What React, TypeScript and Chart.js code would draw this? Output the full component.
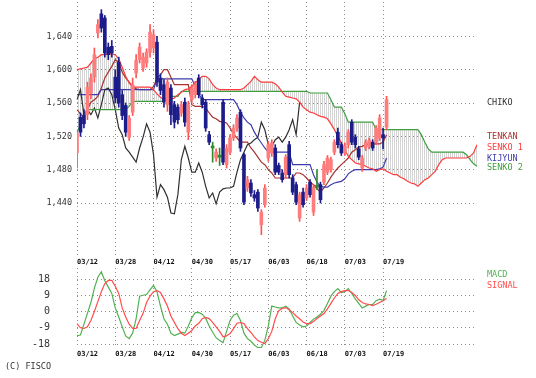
import React, { useEffect, useRef } from 'react';
import { Chart, registerables } from 'chart.js';
Chart.register(...registerables);

// ---- data ----
const dateTicks = ['03/12', '03/28', '04/12', '04/30', '05/17', '06/03', '06/18', '07/03', '07/19'];
const dateTickIndex = [0, 11, 22, 33, 44, 55, 66, 77, 88];
const slotCount = 116;

const priceTicks = [1440, 1480, 1520, 1560, 1600, 1640];
const macdTicks = [-18, -9, 0, 9, 18];

const opens = [1500,1543,1545,1546,1572,1591,1644,1667,1662,1627,
 1628,1591,1609,1570,1557,1519,1549,1596,1612,1602,
 1608,1621,1626,1633,1590,1582,1558,1578,1558,1555,
 1548,1561,1525,1564,1570,1590,1566,1561,1522,1506,
 1494,1495,1561,1486,1501,1518,1530,1549,1498,1458,
 1464,1450,1453,1414,1438,1494,1500,1506,1485,1476,
 1474,1510,1470,1462,1422,1453,1446,1465,1429,1459,
 1462,1465,1477,1480,1501,1525,1510,1500,1510,1537,
 1519,1505,1482,1506,1508,1513,1513,1518,1522,1531];
const highs = [1528,1548,1552,1585,1595,1626,1660,1672,1665,1632,
 1635,1600,1615,1575,1560,1545,1590,1618,1632,1620,
 1625,1654,1648,1640,1595,1588,1590,1582,1562,1558,
 1562,1566,1562,1582,1586,1594,1570,1564,1526,1513,
 1505,1506,1564,1510,1522,1534,1546,1552,1500,1472,
 1468,1455,1456,1432,1462,1514,1516,1510,1488,1480,
 1498,1514,1474,1465,1453,1458,1462,1468,1462,1480,
 1465,1490,1497,1495,1516,1530,1513,1512,1528,1540,
 1522,1508,1497,1516,1518,1516,1533,1546,1530,1568];
const lows = [1482,1520,1530,1540,1565,1585,1638,1645,1615,1612,
 1615,1560,1555,1540,1520,1515,1545,1590,1608,1598,
 1603,1615,1620,1580,1570,1555,1550,1534,1530,1535,
 1544,1532,1516,1560,1566,1566,1554,1526,1510,1489,
 1490,1485,1486,1482,1498,1515,1526,1502,1438,1454,
 1448,1442,1430,1402,1435,1490,1496,1474,1474,1465,
 1470,1470,1450,1438,1418,1435,1443,1447,1425,1456,
 1440,1462,1474,1477,1498,1506,1497,1497,1506,1510,
 1506,1492,1478,1503,1505,1503,1510,1515,1505,1528];
const closes = [1524,1525,1535,1579,1590,1618,1654,1650,1620,1618,
 1620,1566,1560,1545,1525,1542,1582,1611,1627,1615,
 1621,1645,1642,1585,1575,1561,1585,1546,1537,1540,
 1558,1537,1558,1578,1582,1570,1558,1530,1513,1506,
 1501,1495,1489,1506,1518,1530,1542,1506,1441,1468,
 1452,1446,1434,1429,1458,1510,1512,1477,1477,1468,
 1495,1474,1453,1441,1450,1438,1458,1450,1459,1459,
 1444,1486,1494,1492,1513,1510,1500,1508,1525,1513,
 1510,1495,1494,1513,1515,1506,1530,1542,1518,1564];

const tenkan = [1552,1547,1543,1552,1561,1564,1568,1578,1590,1597,
 1604,1612,1609,1597,1590,1585,1580,1577,1576,1576,
 1576,1576,1580,1589,1594,1600,1600,1591,1582,1582,
 1582,1582,1582,1558,1556,1556,1556,1554,1548,1543,
 1541,1538,1537,1536,1530,1523,1518,1513,1513,1513,
 1506,1501,1495,1489,1486,1480,1476,1470,1470,1470,
 1470,1470,1470,1476,1476,1474,1470,1465,1462,1457,
 1453,1458,1464,1471,1477,1482,1486,1490,1494,1501,
 1504,1507,1508,1510,1511,1511,1511,1511,1513,1522];

const kijyun = [1570,1570,1570,1570,1570,1570,1570,1576,1576,1576,
 1576,1576,1576,1576,1576,1576,1576,1576,1576,1576,
 1576,1576,1576,1589,1589,1589,1589,1589,1589,1589,
 1589,1589,1589,1589,1580,1571,1564,1564,1564,1564,
 1564,1564,1564,1564,1564,1564,1558,1549,1542,1537,
 1534,1525,1518,1512,1506,1501,1501,1501,1501,1501,
 1501,1501,1486,1486,1486,1486,1486,1486,1474,1465,
 1460,1459,1459,1462,1464,1465,1466,1469,1475,1478,
 1480,1480,1480,1480,1480,1480,1480,1481,1483,1494];

const senko1 = [1600,1601,1602,1603,1608,1613,1615,1618,1618,1619,
 1619,1618,1613,1603,1592,1584,1579,1579,1579,1579,
 1579,1579,1576,1571,1567,1564,1564,1564,1566,1570,
 1573,1576,1577,1580,1584,1588,1592,1592,1589,1582,
 1578,1576,1576,1576,1576,1576,1576,1576,1578,1582,
 1586,1592,1588,1585,1585,1585,1585,1583,1579,1573,
 1568,1567,1566,1565,1561,1555,1552,1549,1548,1546,
 1544,1543,1541,1535,1528,1520,1512,1504,1496,1492,
 1488,1487,1486,1484,1482,1481,1478,1480,1481,1478,
 1476,1474,1474,1471,1469,1466,1464,1463,1460,1464,
 1468,1470,1474,1478,1486,1492,1494,1494,1494,1494,
 1494,1494,1494,1496,1500,1510];

const senko2 = [1525,1534,1546,1552,1552,1552,1552,1552,1552,1552,
 1552,1552,1552,1552,1552,1556,1562,1562,1562,1562,
 1562,1562,1562,1562,1562,1562,1568,1568,1568,1568,
 1574,1574,1574,1574,1574,1574,1574,1574,1574,1574,
 1574,1574,1574,1574,1574,1574,1574,1574,1574,1574,
 1574,1574,1574,1574,1574,1574,1574,1574,1574,1574,
 1574,1574,1574,1574,1574,1574,1574,1572,1572,1572,
 1572,1572,1572,1564,1555,1555,1555,1547,1537,1537,
 1537,1537,1537,1537,1537,1537,1528,1528,1528,1528,
 1528,1528,1528,1528,1528,1528,1528,1528,1528,1522,
 1513,1505,1501,1501,1501,1501,1501,1501,1501,1501,
 1501,1501,1498,1492,1487,1484];

const chiko = [1564,1576,1546,1552,1546,1554,1542,1558,1576,1578,
 1570,1552,1530,1522,1506,1501,1495,1489,1506,1519,
 1535,1525,1498,1447,1462,1456,1447,1428,1427,1450,
 1492,1508,1494,1477,1477,1488,1477,1460,1446,1452,
 1439,1453,1457,1458,1458,1460,1477,1492,1501,1510,
 1512,1516,1519,1537,1528,1510,1508,1516,1519,1513,
 1519,1528,1540,1522,1561];

const macd = [-13.3,-13,-7,-1,5,13,19,22,17,13.5,
 10,2,-3,-8.5,-13.5,-15,-12,-4,8.5,9,
 9.4,12,14.5,11,3,-4,-7,-12,-13.3,-12.5,
 -11.6,-12,-8,-3.5,-0.6,-0.5,-1.5,-3.8,-8,-11.5,
 -14.5,-16,-17.2,-11,-5,-2,-1.1,-5,-12,-15,
 -16.5,-18.5,-20,-20,-16,-8,3,2.5,2,2,
 3,1.5,-2.5,-6,-7.5,-8.5,-8,-6.1,-4.2,-3,
 -1.5,0.5,4.4,8.5,11,12.7,10.5,11,12.7,10,
 7,4.5,2,3,3.9,3.9,6,6.8,6.1,11.6];

const signal = [-6.7,-9,-9.4,-8.5,-5,0,5.5,11,15.5,17.2,
 17.2,14,10,2,-3,-7,-9.4,-9.4,-5,-1,
 5,8.5,11,11.6,10.5,7,3,-2.5,-6,-9.5,
 -12,-13.3,-12,-10.5,-8,-6.5,-4,-3.3,-3.9,-6,
 -8.5,-11,-14,-13.5,-12.2,-9.5,-6.5,-6.1,-6.7,-9.5,
 -11.6,-14,-16.1,-17,-17.7,-15,-11,-4,0.5,1.7,
 2.2,1,-0.6,-2.5,-4,-5.8,-6.7,-6.7,-5.5,-3.9,
 -2.5,-1.1,1.5,4.5,7.5,10,11,11.6,11.6,10.5,
 8.9,6.5,5,4.2,3.9,3.3,4,5,6,7.2];

// ---- styles ----
const MONO = "'DejaVu Sans Mono', monospace";
const GRID = '#8c8c8c';
const TEXT = '#333333';
const C_UP = '#ff7c7c';
const C_UP_WICK = '#ff5454';
const C_DOWN = '#1c1c8a';
const C_DOJI = '#2e8b2e';
const C_TENKAN = '#a8322d';
const C_SENKO1 = '#ff3c3c';
const C_KIJYUN = '#3c3cae';
const C_SENKO2 = '#3f9f3f';
const C_CHIKO = '#303030';
const C_MACD = '#52b052';
const C_SIGNAL = '#ff4c4c';

const labels = Array.from({ length: slotCount }, (_, i) => {
  const k = dateTickIndex.indexOf(i);
  return k >= 0 ? dateTicks[k] : '';
});

function textPlugin(items: [string, number, number, string][], font: string) {
  return {
    id: 'texts',
    afterDraw(chart: any) {
      const ctx = chart.ctx;
      ctx.save();
      ctx.font = font;
      ctx.textBaseline = 'middle';
      ctx.textAlign = 'left';
      items.forEach(([t, x, y, c]) => {
        ctx.fillStyle = c;
        ctx.fillText(t, x, y);
      });
      ctx.restore();
    },
  };
}

function xScale() {
  return {
    type: 'category',
    offset: false,
    grid: { offset: false, color: GRID, drawTicks: false, lineWidth: 1 },
    border: { display: false, dash: [1, 3] },
    ticks: {
      autoSkip: false,
      maxRotation: 0,
      minRotation: 0,
      align: 'start',
      padding: 2,
      color: '#111',
      font: { family: MONO, size: 7, weight: 'bold' },
    },
    afterBuildTicks: (s: any) => {
      s.ticks = s.ticks.filter((t: any) => labels[t.value] !== '');
    },
    afterFit: (s: any) => {
      s.height = 16;
      s.paddingLeft = 0;
      s.paddingRight = 0;
    },
  };
}

function yFit(s: any) {
  s.width = 77;
  s.paddingTop = 0;
  s.paddingBottom = 0;
}

export default function App() {
  const mainRef = useRef<HTMLCanvasElement>(null);
  const macdRef = useRef<HTMLCanvasElement>(null);

  useEffect(() => {
    const pc = document.createElement('canvas');
    pc.width = 2;
    pc.height = 1;
    const pctx = pc.getContext('2d')!;
    pctx.fillStyle = '#d4d4d4';
    pctx.fillRect(0, 0, 1, 1);
    const mctx = mainRef.current!.getContext('2d')!;
    const hatch = mctx.createPattern(pc, 'repeat');

    const bodyColors = opens.map((o, i) => (closes[i] > o ? C_UP : closes[i] < o ? C_DOWN : C_DOJI));
    const wickColors = opens.map((o, i) => (closes[i] > o ? C_UP_WICK : closes[i] < o ? C_DOWN : C_DOJI));

    const line = (label: string, data: number[], color: string, order: number, extra: any = {}) => ({
      type: 'line',
      label,
      data,
      borderColor: color,
      borderWidth: 1.2,
      pointRadius: 0,
      tension: 0,
      fill: false,
      order,
      ...extra,
    });

    const main = new Chart(mainRef.current!, {
      type: 'bar',
      data: {
        labels,
        datasets: [
          {
            type: 'bar',
            label: 'wick',
            data: lows.map((l, i) => [l, highs[i]]),
            backgroundColor: wickColors,
            borderWidth: 0,
            barThickness: 1,
            grouped: false,
            order: 2,
          },
          {
            type: 'bar',
            label: 'body',
            data: opens.map((o, i) => [o, closes[i]]),
            backgroundColor: bodyColors,
            borderWidth: 0,
            barThickness: 3,
            minBarLength: 2,
            grouped: false,
            order: 1,
          },
          line('SENKO 1', senko1, C_SENKO1, 3, { fill: '+1', backgroundColor: hatch }),
          line('SENKO 2', senko2, C_SENKO2, 3),
          line('CHIKO', chiko, C_CHIKO, 3),
          line('KIJYUN', kijyun, C_KIJYUN, 3),
          line('TENKAN', tenkan, C_TENKAN, 3),
        ] as any,
      },
      options: {
        responsive: false,
        animation: false,
        layout: { autoPadding: false, padding: { top: 2, right: 59, bottom: 0, left: 0 } },
        plugins: {
          legend: { display: false },
          tooltip: { enabled: false },
          filler: { drawTime: 'beforeDatasetsDraw' },
        },
        scales: {
          x: xScale(),
          y: {
            type: 'linear',
            min: 1376.4,
            max: 1681.2,
            beginAtZero: false,
            grid: { color: GRID, drawTicks: false, lineWidth: 1 },
            border: { display: false, dash: [1, 3] },
            ticks: {
              padding: 5,
              color: TEXT,
              font: { family: MONO, size: 8.5 },
              callback: (v: any) => Number(v).toLocaleString('en-US'),
            },
            afterBuildTicks: (s: any) => {
              s.ticks = priceTicks.map((v) => ({ value: v }));
            },
            afterFit: yFit,
          },
        } as any,
      },
      plugins: [
        textPlugin(
          [
            ['CHIKO', 487, 103, C_CHIKO],
            ['TENKAN', 487, 137, C_TENKAN],
            ['SENKO 1', 487, 148, C_SENKO1],
            ['KIJYUN', 487, 159, C_KIJYUN],
            ['SENKO 2', 487, 168, C_SENKO2],
          ],
          `8.5px ${MONO}`
        ),
      ],
    });

    const macdChart = new Chart(macdRef.current!, {
      type: 'line',
      data: {
        labels,
        datasets: [
          line('MACD', macd, C_MACD, 2),
          line('SIGNAL', signal, C_SIGNAL, 1),
        ] as any,
      },
      options: {
        responsive: false,
        animation: false,
        layout: { autoPadding: false, padding: { top: 4, right: 59, bottom: 14, left: 0 } },
        plugins: { legend: { display: false }, tooltip: { enabled: false } },
        scales: {
          x: xScale(),
          y: {
            type: 'linear',
            min: -20.2,
            max: 24.1,
            grid: { color: GRID, drawTicks: false, lineWidth: 1 },
            border: { display: false, dash: [1, 3] },
            ticks: {
              padding: 27,
              color: TEXT,
              font: { family: MONO, size: 10 },
              callback: (v: any) => String(v),
            },
            afterBuildTicks: (s: any) => {
              s.ticks = macdTicks.map((v) => ({ value: v }));
            },
            afterFit: yFit,
          },
        } as any,
      },
      plugins: [
        textPlugin(
          [
            ['MACD', 487, 11, C_MACD],
            ['SIGNAL', 487, 22, C_SIGNAL],
            ['(C) FISCO', 5, 103, TEXT],
          ],
          `8.5px ${MONO}`
        ),
      ],
    });

    return () => {
      main.destroy();
      macdChart.destroy();
    };
  }, []);

  return (
    <div style={{ position: 'fixed', left: 0, top: 0, width: 536, height: 378, background: '#ffffff' }}>
      <canvas ref={mainRef} width={536} height={272} style={{ position: 'absolute', left: 0, top: 0 }} />
      <canvas ref={macdRef} width={536} height={114} style={{ position: 'absolute', left: 0, top: 264 }} />
    </div>
  );
}
